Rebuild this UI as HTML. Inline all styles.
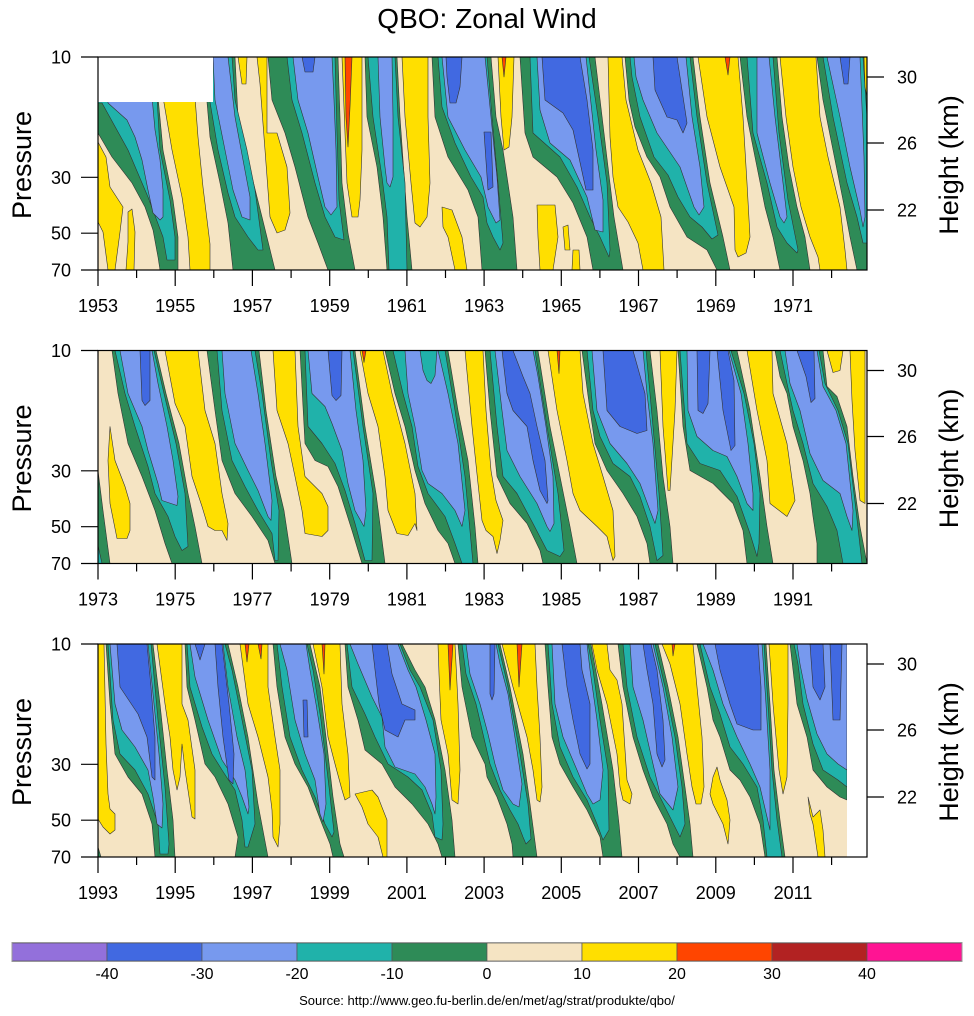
<!DOCTYPE html>
<html><head><meta charset="utf-8"><style>
html,body{margin:0;padding:0;background:#fff}
svg{display:block}
text{font-family:"Liberation Sans",Arial,sans-serif;fill:#000}
.p polygon{stroke:#333;stroke-width:.6;stroke-linejoin:round}
.g{fill:#2E8B57}.t{fill:#20B2AA}.b{fill:#7799EE}.r{fill:#4169E1}.y{fill:#FFDF00}.o{fill:#FF4500}
.tk{stroke:#000;stroke-width:1.2;fill:none}
.fr{fill:none;stroke:#000;stroke-width:1.2}
</style></head><body>
<svg width="974" height="1016" viewBox="0 0 974 1016" xmlns="http://www.w3.org/2000/svg">
<defs><clipPath id="c"><rect x="0" y="0" width="769" height="213"/></clipPath></defs>
<rect width="974" height="1016" fill="#fff"/>
<text x="487" y="28" font-size="28" text-anchor="middle">QBO: Zonal Wind</text>

<!-- PANEL 1 -->
<g transform="translate(98,57)">
<g class="p" clip-path="url(#c)">
<rect width="769" height="213" fill="#F5E4C3"/>
<polygon class="g" points="0,40 60,40 65,93 75,143 80,180 80,213 62,213 60,200 55,173 47,150 34,126 14,100 0,76"/>
<polygon class="g" points="105,0 137,0 140,60 154,120 164,160 177,213 135,213 130,166 122,126 112,80 109,45"/>
<polygon class="g" points="170,0 240,0 242,60 244,126 250,176 257,213 230,213 220,186 210,160 197,110 187,76 174,43"/>
<polygon class="g" points="267,0 299,0 302,60 309,160 314,213 289,213 285,160 279,110 269,60"/>
<polygon class="g" points="334,0 393,0 398,60 405,93 415,160 419,213 384,213 380,160 370,133 350,100 337,60"/>
<polygon class="g" points="422,0 497,0 508,93 516,160 525,213 495,213 489,180 475,146 459,120 435,100 427,76"/>
<polygon class="g" points="527,0 595,0 602,60 612,126 625,180 632,213 619,213 609,193 589,180 572,150 562,120 549,100 537,70 531,43"/>
<polygon class="g" points="642,0 679,0 684,60 691,110 699,150 707,180 712,213 682,213 675,180 667,150 659,110 649,60"/>
<polygon class="g" points="719,0 769,0 769,213 759,213 752,180 745,143 735,93 725,43"/>
<polygon class="t" points="0,40 59,40 62,93 72,143 77,180 77,203 69,203 65,180 50,140 30,93 4,46 0,46"/>
<polygon class="t" points="110,0 134,0 137,43 149,93 157,133 165,193 160,193 150,180 137,160 130,136 120,93 112,45"/>
<polygon class="t" points="189,0 237,0 239,76 241,143 246,183 237,180 227,160 217,126 204,76 194,43"/>
<polygon class="t" points="270,0 297,0 300,60 307,126 309,213 291,213 289,160 284,120 275,60"/>
<polygon class="t" points="340,0 389,0 394,60 400,126 405,186 402,193 395,180 389,166 385,140 373,120 357,86 344,50"/>
<polygon class="t" points="432,0 491,0 500,60 509,126 512,193 511,200 502,180 492,160 479,130 462,100 435,76"/>
<polygon class="t" points="532,0 592,0 599,60 609,126 620,178 614,182 604,170 592,160 580,140 570,118 556,100 542,60 534,20"/>
<polygon class="t" points="649,0 675,0 681,76 690,143 700,193 699,196 689,186 679,170 669,126 655,76"/>
<polygon class="t" points="725,0 765,0 769,60 769,186 765,186 759,160 749,126 735,60"/>
<polygon class="b" points="10,40 54,40 57,73 62,103 65,133 65,160 62,163 55,156 50,133 44,103 37,80 29,63 10,46"/>
<polygon class="b" points="115,0 130,0 137,60 145,103 152,140 152,163 144,160 135,133 127,93 117,43"/>
<polygon class="b" points="195,0 234,0 236,43 238,93 239,150 233,158 227,150 220,120 210,76 200,43"/>
<polygon class="b" points="280,0 294,0 295,60 295,120 292,130 289,126 287,110 282,60"/>
<polygon class="b" points="344,0 387,0 393,60 399,120 402,163 398,166 390,150 383,120 367,93 350,60"/>
<polygon class="b" points="439,0 488,0 498,93 505,143 505,175 497,173 489,140 472,103 452,86 442,53"/>
<polygon class="b" points="536,0 588,0 594,60 602,110 606,150 601,158 596,150 590,133 582,110 559,76 545,43 538,20"/>
<polygon class="b" points="659,0 671,0 677,60 685,126 689,160 686,166 682,160 672,126 659,76"/>
<polygon class="b" points="729,0 762,0 766,100 767,160 765,170 762,153 752,110 742,60"/>
<polygon class="r" points="204,0 217,0 215,15 207,15"/>
<polygon class="r" points="348,0 364,0 362,30 358,46 352,46 349,20"/>
<polygon class="r" points="386,75 393,75 395,130 390,133"/>
<polygon class="r" points="444,0 482,0 489,43 495,93 495,133 488,133 475,73 465,56 447,43"/>
<polygon class="r" points="555,0 579,0 589,66 585,76 579,63 569,60 557,33"/>
<polygon class="r" points="742,0 752,0 750,27 746,27"/>
<polygon class="y" points="0,85 8,100 12,130 25,150 22,175 17,213 10,213 5,175 0,165"/>
<polygon class="y" points="30,155 34,152 37,175 36,213 28,213 30,185"/>
<polygon class="y" points="65,40 97,40 100,80 105,130 112,187 112,213 92,213 90,180 84,140 74,93"/>
<polygon class="y" points="159,0 169,0 169,76 179,76 189,110 192,156 187,173 179,176 172,160 167,93 162,27"/>
<polygon class="y" points="140,0 149,0 148,27 144,27"/>
<polygon class="y" points="244,0 264,0 264,93 262,143 260,160 254,160 249,126 247,76"/>
<polygon class="y" points="304,0 330,0 330,60 332,126 329,160 322,170 317,166 313,126 307,60"/>
<polygon class="y" points="344,150 354,153 364,180 369,213 357,213 350,180 345,170"/>
<polygon class="y" points="400,0 416,0 414,60 411,90 406,93 403,60"/>
<polygon class="y" points="439,148 457,148 460,180 455,213 442,213 440,180"/>
<polygon class="y" points="465,170 470,168 472,193 467,193"/>
<polygon class="y" points="475,193 481,193 482,213 474,213"/>
<polygon class="y" points="510,0 524,0 528,43 540,93 553,126 563,160 566,213 545,213 540,186 530,165 520,150 515,120 512,80"/>
<polygon class="y" points="600,0 640,0 645,60 649,126 652,180 648,196 640,200 637,193 636,150 622,110 609,60"/>
<polygon class="y" points="682,0 718,0 722,60 730,100 742,150 747,193 749,213 722,213 720,200 712,180 703,150 695,110 688,60"/>
<polygon class="y" points="766,0 769,0 769,40 767,30"/>
<polygon class="o" points="247,0 254,0 252,50 250,90 248,60"/>
<polygon class="o" points="404,0 408,0 406,20"/>
<polygon class="o" points="627,0 632,0 630,18"/>
<rect x="0" y="0" width="115" height="45" fill="#fff"/>
</g>
<rect class="fr" x="0" y="0" width="769" height="213"/>
<path class="tk" d="M0 213v16M77.2 213v16M154.4 213v16M231.7 213v16M308.9 213v16M386.1 213v16M463.3 213v16M540.5 213v16M617.8 213v16M695 213v16M38.6 213v8M115.8 213v8M193.1 213v8M270.3 213v8M347.5 213v8M424.7 213v8M501.9 213v8M579.1 213v8M656.4 213v8M733.6 213v8M-17 0h17M-17 120.3h17M-17 176.2h17M-17 213h17M769 20h17M769 86h17M769 153h17"/>
<g font-size="18">
<text x="-27" y="6.5" text-anchor="end">10</text><text x="-27" y="126.8" text-anchor="end">30</text><text x="-27" y="182.7" text-anchor="end">50</text><text x="-27" y="219.5" text-anchor="end">70</text>
<text x="799" y="26.5">30</text><text x="799" y="92.5">26</text><text x="799" y="159.5">22</text>
<g text-anchor="middle"><text x="0" y="255">1953</text><text x="77.2" y="255">1955</text><text x="154.4" y="255">1957</text><text x="231.7" y="255">1959</text><text x="308.9" y="255">1961</text><text x="386.1" y="255">1963</text><text x="463.3" y="255">1965</text><text x="540.5" y="255">1967</text><text x="617.8" y="255">1969</text><text x="695" y="255">1971</text></g>
</g>
<text transform="translate(-67,108) rotate(-90)" font-size="27" text-anchor="middle">Pressure</text>
<text transform="translate(860,108) rotate(-90)" font-size="27" text-anchor="middle">Height (km)</text>
</g>

<!-- PANEL 2 -->
<g transform="translate(98,350.5)">
<g class="p" clip-path="url(#c)">
<rect width="769" height="213" fill="#F5E4C3"/>
<polygon class="g" points="0,120 5,160 12,213 0,213"/>
<polygon class="g" points="14,0 58,0 68,43 81,93 90,143 97,176 104,213 74,213 67,193 57,160 44,126 30,93 20,43"/>
<polygon class="g" points="109,0 161,0 168,60 178,126 186,160 194,213 177,213 170,190 154,166 137,143 124,110 117,60"/>
<polygon class="g" points="202,0 257,0 267,76 278,143 287,213 264,213 254,180 240,136 230,116 217,110 207,93"/>
<polygon class="g" points="287,0 350,0 360,60 370,110 377,176 380,213 357,213 350,193 340,180 327,153 317,120 307,76 297,43"/>
<polygon class="g" points="387,0 440,0 452,76 462,126 472,176 479,213 445,213 442,200 429,173 412,153 399,126 392,60"/>
<polygon class="g" points="484,0 552,0 559,60 565,126 572,176 575,213 552,213 549,193 539,166 525,143 509,120 497,93 492,60"/>
<polygon class="g" points="580,0 639,0 652,60 662,126 669,176 675,213 649,213 645,180 635,153 615,133 592,120 585,76"/>
<polygon class="g" points="677,0 725,0 729,36 739,46 749,76 755,126 762,176 769,213 719,213 719,193 715,166 712,143 705,110 695,76 689,43 682,26"/>
<polygon class="t" points="0,195 4,213 0,213"/>
<polygon class="t" points="17,0 56,0 66,43 78,93 87,143 90,196 84,200 77,186 70,166 57,143 50,116 37,76 27,43"/>
<polygon class="t" points="119,0 157,0 164,43 173,110 181,160 180,210 177,210 174,183 160,160 147,136 134,110 124,60"/>
<polygon class="t" points="207,0 255,0 265,76 275,143 274,210 267,210 257,173 247,140 237,113 224,93 210,76"/>
<polygon class="t" points="295,0 347,0 357,60 367,126 375,213 364,213 357,193 347,166 330,143 320,116 314,76 305,43"/>
<polygon class="t" points="392,0 437,0 449,76 460,143 466,200 462,206 449,200 435,173 419,143 405,126 399,76"/>
<polygon class="t" points="489,0 548,0 555,76 561,143 565,205 559,210 552,176 542,146 532,126 515,113 502,86 495,60"/>
<polygon class="t" points="582,0 633,0 646,43 656,93 662,143 661,193 659,206 652,183 639,146 622,120 602,113 589,93"/>
<polygon class="t" points="682,0 721,0 727,33 740,60 750,93 758,160 764,213 745,213 739,180 729,156 715,133 705,93 695,60 689,33"/>
<polygon class="b" points="22,0 54,0 60,33 69,76 75,110 80,146 79,155 64,150 60,133 50,100 44,76 30,43"/>
<polygon class="b" points="124,0 153,0 160,43 167,93 174,150 173,170 170,166 160,140 150,120 137,93 127,43"/>
<polygon class="b" points="210,0 252,0 258,60 265,110 268,160 266,176 257,160 250,133 244,100 234,73 227,56 214,43"/>
<polygon class="b" points="307,0 340,0 350,43 360,93 367,160 364,176 357,160 344,143 330,133 324,120 317,76 310,43"/>
<polygon class="b" points="397,0 435,0 440,26 448,76 455,126 456,173 452,181 449,176 439,153 422,126 409,100 404,60"/>
<polygon class="b" points="494,0 545,0 549,43 555,93 560,160 557,173 552,160 542,133 529,113 512,93 499,60"/>
<polygon class="b" points="589,0 631,0 643,43 650,93 655,143 655,160 649,153 639,126 629,106 615,100 599,86 590,60"/>
<polygon class="b" points="687,0 719,0 725,36 738,60 748,93 755,160 754,180 749,166 742,143 725,130 712,103 702,60 692,33"/>
<polygon class="r" points="42,0 52,0 52,50 47,55 44,50"/>
<polygon class="r" points="230,0 244,0 243,45 238,50 234,45"/>
<polygon class="r" points="404,0 415,0 425,26 432,43 439,76 447,110 450,150 449,153 442,140 435,110 429,76 415,60 409,43"/>
<polygon class="r" points="505,0 535,0 547,43 549,80 539,83 522,76 509,60"/>
<polygon class="r" points="599,0 612,0 610,53 605,63 600,60"/>
<polygon class="r" points="619,0 630,0 636,30 637,95 633,100 625,60"/>
<polygon class="r" points="699,0 716,0 717,48 713,52 708,26"/>
<polygon class="t" points="322,0 339,0 337,25 333,33 329,30 325,20"/>
<polygon class="y" points="12,76 17,110 27,136 32,153 32,180 29,188 19,188 12,153 10,110"/>
<polygon class="y" points="67,0 100,0 107,60 117,93 124,143 130,173 129,190 124,180 117,180 110,176 104,156 94,126 87,76 77,53"/>
<polygon class="y" points="175,0 197,0 200,76 207,126 224,143 230,156 230,180 224,186 207,183 204,160 197,126 190,93 179,60"/>
<polygon class="y" points="262,0 285,0 294,43 307,93 317,143 319,180 317,173 310,185 299,183 290,160 287,126 280,76 270,43"/>
<polygon class="y" points="367,0 385,0 388,60 393,120 398,150 405,170 402,190 399,203 395,186 388,180 384,170 380,133 374,76"/>
<polygon class="y" points="450,0 482,0 485,43 495,93 505,126 515,160 517,206 515,210 509,186 499,176 482,160 475,143 469,110 459,60"/>
<polygon class="y" points="562,0 579,0 577,60 572,140 570,140 565,76"/>
<polygon class="y" points="649,0 674,0 675,43 689,93 697,150 689,166 672,153 669,110 659,60"/>
<polygon class="y" points="752,0 767,0 767,153 762,150 757,100 754,50"/>
<polygon class="y" points="729,0 745,0 742,20 735,22"/>
<polygon class="o" points="264,0 268,0 266,12"/>
<polygon class="o" points="459,0 462,0 461,23"/>
</g>
<rect class="fr" x="0" y="0" width="769" height="213"/>
<path class="tk" d="M0 213v16M77.2 213v16M154.4 213v16M231.7 213v16M308.9 213v16M386.1 213v16M463.3 213v16M540.5 213v16M617.8 213v16M695 213v16M38.6 213v8M115.8 213v8M193.1 213v8M270.3 213v8M347.5 213v8M424.7 213v8M501.9 213v8M579.1 213v8M656.4 213v8M733.6 213v8M-17 0h17M-17 120.3h17M-17 176.2h17M-17 213h17M769 20h17M769 86h17M769 153h17"/>
<g font-size="18">
<text x="-27" y="6.5" text-anchor="end">10</text><text x="-27" y="126.8" text-anchor="end">30</text><text x="-27" y="182.7" text-anchor="end">50</text><text x="-27" y="219.5" text-anchor="end">70</text>
<text x="799" y="26.5">30</text><text x="799" y="92.5">26</text><text x="799" y="159.5">22</text>
<g text-anchor="middle"><text x="0" y="255">1973</text><text x="77.2" y="255">1975</text><text x="154.4" y="255">1977</text><text x="231.7" y="255">1979</text><text x="308.9" y="255">1981</text><text x="386.1" y="255">1983</text><text x="463.3" y="255">1985</text><text x="540.5" y="255">1987</text><text x="617.8" y="255">1989</text><text x="695" y="255">1991</text></g>
</g>
<text transform="translate(-67,108) rotate(-90)" font-size="27" text-anchor="middle">Pressure</text>
<text transform="translate(860,108) rotate(-90)" font-size="27" text-anchor="middle">Height (km)</text>
</g>

<!-- PANEL 3 -->
<g transform="translate(98,644)">
<g class="p" clip-path="url(#c)">
<rect width="769" height="213" fill="#F5E4C3"/>
<polygon class="g" points="0,203 3,213 0,213"/>
<polygon class="g" points="8,0 55,0 62,60 69,126 75,176 77,213 57,213 54,180 44,150 30,133 17,110 12,60"/>
<polygon class="g" points="87,0 130,0 140,43 150,93 160,160 170,213 137,213 140,193 130,160 117,133 107,120 97,76 89,43"/>
<polygon class="g" points="175,0 212,0 222,43 228,93 235,153 242,200 246,213 235,213 232,200 224,180 210,143 197,120 187,93 179,43"/>
<polygon class="g" points="247,0 304,0 317,26 327,43 337,76 347,126 354,176 357,213 344,213 340,200 330,180 314,160 297,143 284,120 267,106 260,76 250,43"/>
<polygon class="g" points="360,0 402,0 412,43 425,110 432,160 439,213 415,213 414,200 409,180 399,153 389,133 387,120 374,93 364,43"/>
<polygon class="g" points="447,0 493,0 504,60 515,126 521,180 524,213 505,213 502,193 489,166 475,143 462,120 454,93 450,43"/>
<polygon class="g" points="520,0 560,0 570,43 580,93 587,143 592,180 595,213 582,213 575,200 569,180 555,153 545,126 535,93 525,43"/>
<polygon class="g" points="599,0 668,0 672,60 676,126 682,176 687,213 667,213 662,180 652,153 642,136 632,126 622,93 615,76 609,43"/>
<polygon class="g" points="692,0 749,0 749,156 742,153 729,143 715,126 709,93 699,60"/>
<polygon class="t" points="10,0 53,0 60,76 67,143 71,200 70,210 62,210 60,180 50,150 37,126 22,110 15,76"/>
<polygon class="t" points="89,0 127,0 134,26 144,76 154,126 157,180 150,203 147,203 144,176 137,146 124,126 114,110 104,83 92,43"/>
<polygon class="t" points="179,0 209,0 215,26 223,76 231,143 236,188 234,193 227,180 217,153 204,126 192,93 184,43"/>
<polygon class="t" points="249,0 302,0 312,26 322,43 335,76 343,126 345,180 344,196 337,193 334,170 324,146 310,133 290,120 277,93 267,70 254,43"/>
<polygon class="t" points="364,0 400,0 410,43 422,110 430,160 433,195 428,200 425,193 420,180 412,166 402,146 392,120 385,90 378,60 368,30"/>
<polygon class="t" points="450,0 490,0 495,26 502,76 510,126 511,186 505,196 499,180 489,156 475,133 462,103 454,60"/>
<polygon class="t" points="525,0 557,0 567,43 577,93 584,143 587,180 582,193 572,173 562,153 552,133 539,93 529,43"/>
<polygon class="t" points="602,0 666,0 670,60 674,126 679,176 684,213 669,213 665,176 659,143 645,120 632,103 622,70 612,43"/>
<polygon class="t" points="696,0 749,0 749,143 740,136 725,126 715,100 705,60 700,20"/>
<polygon class="b" points="12,0 50,0 56,60 61,110 65,160 64,184 59,180 55,153 50,126 37,103 24,86 17,60"/>
<polygon class="b" points="92,0 125,0 130,43 139,93 147,126 151,163 150,170 144,153 137,136 124,116 110,76 97,33"/>
<polygon class="b" points="182,0 208,0 212,26 218,60 226,110 228,160 225,178 222,170 217,136 207,110 197,76 189,26"/>
<polygon class="b" points="252,0 300,0 310,26 318,43 328,76 337,110 338,153 337,170 334,160 327,143 317,130 297,123 287,103 284,73 274,53 260,20"/>
<polygon class="b" points="368,0 398,0 402,20 410,50 418,100 424,140 421,163 415,160 405,146 397,120 390,90 382,60 372,30"/>
<polygon class="b" points="454,0 489,0 492,26 499,76 505,126 502,156 495,160 489,150 479,126 465,93 457,60"/>
<polygon class="b" points="532,0 555,0 565,43 574,93 580,143 575,166 562,150 555,120 545,76 535,43"/>
<polygon class="b" points="605,0 664,0 668,60 672,126 672,186 669,173 662,143 652,120 639,93 625,60 615,26"/>
<polygon class="b" points="699,0 749,0 749,126 740,120 729,110 719,90 709,55 702,20"/>
<polygon class="r" points="19,0 49,0 53,43 57,93 57,136 54,133 49,93 40,70 22,43"/>
<polygon class="r" points="97,0 107,0 102,16"/>
<polygon class="r" points="117,0 124,0 131,60 136,110 135,140 131,136 125,93 120,43"/>
<polygon class="r" points="205,56 209,56 210,93 206,93"/>
<polygon class="r" points="274,0 289,0 294,30 304,60 317,66 317,76 307,76 300,93 287,86 281,60"/>
<polygon class="r" points="392,0 397,0 396,50 394,56 392,50"/>
<polygon class="r" points="464,0 482,0 484,26 492,60 492,120 489,125 482,110 475,76 469,43"/>
<polygon class="r" points="545,0 553,0 559,26 565,76 567,116 564,123 559,110 555,60 549,26"/>
<polygon class="r" points="617,0 660,0 663,43 663,86 655,86 639,80 632,60 622,26"/>
<polygon class="r" points="712,0 725,0 727,43 722,56 715,43"/>
<polygon class="r" points="732,0 744,0 742,76 735,76"/>
<polygon class="y" points="0,0 6,0 8,100 10,150 12,165 17,170 17,186 12,190 5,183 0,175"/>
<polygon class="y" points="59,0 84,0 84,60 90,76 97,126 97,175 94,173 87,126 84,100 82,133 79,146 75,126 72,93 67,60"/>
<polygon class="y" points="142,0 170,0 170,43 177,93 182,126 182,180 180,203 175,193 174,166 170,133 160,93 150,60"/>
<polygon class="y" points="215,0 242,0 244,60 250,110 252,153 247,156 244,146 237,120 230,93 224,43"/>
<polygon class="y" points="257,150 264,163 270,180 280,193 285,213 289,213 289,176 280,153 274,146"/>
<polygon class="y" points="340,0 357,0 360,60 362,126 360,160 354,156 350,110 343,76 341,30"/>
<polygon class="y" points="404,0 437,0 439,43 442,93 444,143 442,158 439,156 435,126 429,93 415,43"/>
<polygon class="y" points="494,0 509,0 512,26 519,36 524,60 529,136 534,150 532,160 525,156 522,143 519,110 509,60 499,26"/>
<polygon class="y" points="564,0 595,0 599,43 604,93 606,143 603,160 598,160 594,143 589,110 582,60 572,20"/>
<polygon class="y" points="671,0 690,0 690,60 689,133 685,150 681,126 675,60"/>
<polygon class="y" points="619,123 622,136 629,156 632,176 630,200 625,180 615,160 612,150 615,133"/>
<polygon class="y" points="710,153 715,173 722,166 725,186 727,213 720,213 715,180 712,170"/>
<polygon class="o" points="147,0 151,0 149,18"/>
<polygon class="o" points="160,0 164,0 163,15"/>
<polygon class="o" points="224,0 227,0 226,30"/>
<polygon class="o" points="350,0 355,0 352,46"/>
<polygon class="o" points="419,0 424,0 421,43"/>
<polygon class="o" points="574,0 577,0 575,12"/>
<rect x="749" y="0" width="20" height="213" fill="#fff"/>
</g>
<rect class="fr" x="0" y="0" width="769" height="213"/>
<path class="tk" d="M0 213v16M77.2 213v16M154.4 213v16M231.7 213v16M308.9 213v16M386.1 213v16M463.3 213v16M540.5 213v16M617.8 213v16M695 213v16M38.6 213v8M115.8 213v8M193.1 213v8M270.3 213v8M347.5 213v8M424.7 213v8M501.9 213v8M579.1 213v8M656.4 213v8M733.6 213v8M-17 0h17M-17 120.3h17M-17 176.2h17M-17 213h17M769 20h17M769 86h17M769 153h17"/>
<g font-size="18">
<text x="-27" y="6.5" text-anchor="end">10</text><text x="-27" y="126.8" text-anchor="end">30</text><text x="-27" y="182.7" text-anchor="end">50</text><text x="-27" y="219.5" text-anchor="end">70</text>
<text x="799" y="26.5">30</text><text x="799" y="92.5">26</text><text x="799" y="159.5">22</text>
<g text-anchor="middle"><text x="0" y="255">1993</text><text x="77.2" y="255">1995</text><text x="154.4" y="255">1997</text><text x="231.7" y="255">1999</text><text x="308.9" y="255">2001</text><text x="386.1" y="255">2003</text><text x="463.3" y="255">2005</text><text x="540.5" y="255">2007</text><text x="617.8" y="255">2009</text><text x="695" y="255">2011</text></g>
</g>
<text transform="translate(-67,108) rotate(-90)" font-size="27" text-anchor="middle">Pressure</text>
<text transform="translate(860,108) rotate(-90)" font-size="27" text-anchor="middle">Height (km)</text>
</g>

<!-- COLORBAR -->
<g stroke="#555" stroke-width=".7">
<rect x="12" y="943" width="95" height="18" fill="#9370DB"/>
<rect x="107" y="943" width="95" height="18" fill="#4169E1"/>
<rect x="202" y="943" width="95" height="18" fill="#7799EE"/>
<rect x="297" y="943" width="95" height="18" fill="#20B2AA"/>
<rect x="392" y="943" width="95" height="18" fill="#2E8B57"/>
<rect x="487" y="943" width="95" height="18" fill="#F5E4C3"/>
<rect x="582" y="943" width="95" height="18" fill="#FFDF00"/>
<rect x="677" y="943" width="95" height="18" fill="#FF4500"/>
<rect x="772" y="943" width="95" height="18" fill="#B22222"/>
<rect x="867" y="943" width="95" height="18" fill="#FF1493"/>
</g>
<rect x="12" y="942.5" width="950" height="19" fill="none" stroke="#999" stroke-width="1"/>
<g font-size="16" text-anchor="middle">
<text x="107" y="979">-40</text><text x="202" y="979">-30</text><text x="297" y="979">-20</text><text x="392" y="979">-10</text><text x="487" y="979">0</text><text x="582" y="979">10</text><text x="677" y="979">20</text><text x="772" y="979">30</text><text x="867" y="979">40</text>
</g>
<text x="487" y="1005" font-size="13" text-anchor="middle">Source: http://www.geo.fu-berlin.de/en/met/ag/strat/produkte/qbo/</text>
</svg>
</body></html>
